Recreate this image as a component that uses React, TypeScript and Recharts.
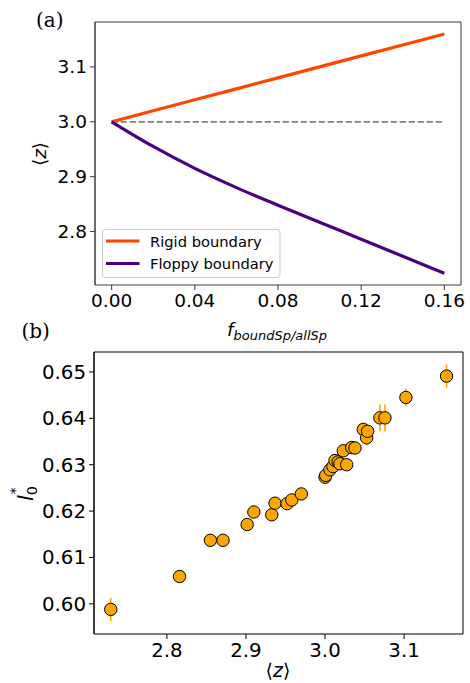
import React from "react";
import { ComposedChart, Line, Scatter, XAxis, YAxis, ErrorBar } from "recharts";

// Panel (a) data
const F_VALUES = [0, 0.02, 0.04, 0.06, 0.08, 0.1, 0.12, 0.14, 0.16];
const RIGID = [3.0, 3.02, 3.04, 3.06, 3.08, 3.1, 3.12, 3.14, 3.16];
const FLOPPY = [3.0, 2.955, 2.915, 2.88, 2.848, 2.817, 2.786, 2.755, 2.724];
const BASELINE = [3.0, 3.0, 3.0, 3.0, 3.0, 3.0, 3.0, 3.0, 3.0];
const A_X_TICKS = [0, 0.04, 0.08, 0.12, 0.16];
const A_Y_TICKS = [2.8, 2.9, 3.0, 3.1];
const A_X_DOMAIN = [-0.008, 0.168];
const A_Y_DOMAIN = [2.7026, 3.1818];

// Panel (b) data
const Z_VALUES = [
  2.729, 2.816, 2.855, 2.871, 2.9015, 2.91, 2.9326, 2.9368, 2.952, 2.958, 2.97,
  3.0, 3.0009, 3.0063, 3.01, 3.0126, 3.0165, 3.0189, 3.0231, 3.0274, 3.0337,
  3.0379, 3.0484, 3.0527, 3.0539, 3.0694, 3.0758, 3.1023, 3.1537,
];
const L_VALUES = [
  0.5988, 0.6059, 0.6137, 0.6137, 0.6171, 0.6198, 0.6192, 0.6217, 0.6216, 0.6224,
  0.6237, 0.6273, 0.6277, 0.6289, 0.6296, 0.6309, 0.6306, 0.6302, 0.633, 0.63,
  0.6337, 0.6336, 0.6376, 0.6358, 0.6372, 0.6401, 0.6401, 0.6445, 0.6491,
];
const L_ERRORS = [
  0.0025, 0.0008, 0.0008, 0.0008, 0.0008, 0.0008, 0.0008, 0.0008, 0.0008, 0.0008,
  0.0008, 0.0008, 0.0008, 0.0008, 0.0008, 0.0008, 0.0008, 0.0008, 0.0008, 0.0008,
  0.0008, 0.0008, 0.0008, 0.0017, 0.0008, 0.0029, 0.0029, 0.0019, 0.0025,
];
const B_X_TICKS = [2.8, 2.9, 3.0, 3.1];
const B_Y_TICKS = [0.6, 0.61, 0.62, 0.63, 0.64, 0.65];
const B_X_DOMAIN = [2.7078, 3.1745];
const B_Y_DOMAIN = [0.5935, 0.6543];

const lineData = F_VALUES.map((f, i) => ({
  f,
  rigid: RIGID[i],
  floppy: FLOPPY[i],
  base: BASELINE[i],
}));
const scatterData = Z_VALUES.map((z, i) => ({ z, l: L_VALUES[i], err: L_ERRORS[i] }));

const RIGID_COLOR = "#FF4500";
const FLOPPY_COLOR = "#4B0082";
const DOT_COLOR = "#FFA500";
const FONT = "DejaVu Sans";
const tickStyleA = { fill: "#000", fontSize: 18.5, fontFamily: FONT };
const tickStyleB = { fill: "#000", fontSize: 19.8, fontFamily: FONT };

const Dot = (props: any) => {
  const { cx, cy } = props;
  if (cx == null || cy == null) return null;
  return <circle cx={cx} cy={cy} r={6.2} fill={DOT_COLOR} stroke="#000" strokeWidth={1} />;
};

export default function App() {
  const aFrame = "#3a3a3a";
  return (
    <div style={{ position: "absolute", left: 0, top: 0, width: 470, height: 683, background: "#fff" }}>
      <div style={{ position: "absolute", left: 0, top: 0 }}>
        <ComposedChart width={470} height={320} data={lineData} margin={{ top: 22, right: 9, left: 0, bottom: 0 }}>
          <XAxis
            dataKey="f"
            type="number"
            domain={A_X_DOMAIN}
            allowDataOverflow
            ticks={A_X_TICKS}
            tickFormatter={(v: number) => v.toFixed(2)}
            height={35}
            tickSize={5}
            tickMargin={4}
            tick={tickStyleA}
            stroke={aFrame}
          />
          <YAxis
            type="number"
            domain={A_Y_DOMAIN}
            allowDataOverflow
            ticks={A_Y_TICKS}
            tickFormatter={(v: number) => v.toFixed(1)}
            width={95}
            tickSize={5}
            tickMargin={3}
            tick={tickStyleA}
            stroke={aFrame}
          />
          <Line dataKey="base" stroke="#808080" strokeWidth={1.7} strokeDasharray="6.3 2.7" dot={false} isAnimationActive={false} />
          <Line dataKey="rigid" stroke={RIGID_COLOR} strokeWidth={3.2} dot={false} isAnimationActive={false} />
          <Line type="monotone" dataKey="floppy" stroke={FLOPPY_COLOR} strokeWidth={3.2} dot={false} isAnimationActive={false} />
        </ComposedChart>
      </div>
      <div style={{ position: "absolute", left: 0, top: 320 }}>
        <ComposedChart width={470} height={363} data={scatterData} margin={{ top: 32, right: 7, left: 0, bottom: 0 }}>
          <XAxis
            dataKey="z"
            type="number"
            domain={B_X_DOMAIN}
            allowDataOverflow
            ticks={B_X_TICKS}
            tickFormatter={(v: number) => v.toFixed(1)}
            height={49}
            tickSize={5}
            tickMargin={4}
            tick={tickStyleB}
            stroke="#000"
          />
          <YAxis
            dataKey="l"
            type="number"
            domain={B_Y_DOMAIN}
            allowDataOverflow
            ticks={B_Y_TICKS}
            tickFormatter={(v: number) => v.toFixed(2)}
            width={94}
            tickSize={5}
            tickMargin={3}
            tick={tickStyleB}
            stroke="#000"
          />
          <Scatter data={scatterData} dataKey="l" shape={Dot} isAnimationActive={false}>
            <ErrorBar dataKey="err" direction="y" width={0} stroke={DOT_COLOR} strokeWidth={1.6} />
          </Scatter>
        </ComposedChart>
      </div>
      <svg width={470} height={683} style={{ position: "absolute", left: 0, top: 0, pointerEvents: "none" }}>
        {/* plot frames (top and right spines) */}
        <polyline points="95,285 95,22 461,22 461,285" fill="none" stroke={aFrame} strokeWidth={1} />
        <polyline points="94,634 94,352 463,352 463,634" fill="none" stroke="#000" strokeWidth={1} />
        {/* panel labels */}
        <text x={36} y={26.5} fontFamily="DejaVu Serif" fontSize={20} fill="#000">(a)</text>
        <text x={21.5} y={338} fontFamily="DejaVu Serif" fontSize={20} fill="#000">(b)</text>
        {/* legend (a) */}
        <rect x={102.5} y={229.5} width={177.5} height={48} rx={3} fill="#fff" fillOpacity={0.8} stroke="#cccccc" strokeWidth={1} />
        <line x1={106} x2={139.5} y1={241} y2={241} stroke={RIGID_COLOR} strokeWidth={3.2} />
        <line x1={106} x2={139.5} y1={263.5} y2={263.5} stroke={FLOPPY_COLOR} strokeWidth={3.2} />
        <text x={150} y={246.5} fontFamily={FONT} fontSize={14.7} fill="#000">Rigid boundary</text>
        <text x={150} y={269} fontFamily={FONT} fontSize={14.7} fill="#000">Floppy boundary</text>
        {/* axis labels (a) */}
        <text transform="translate(46,154) rotate(-90)" textAnchor="middle" fontFamily={FONT} fontSize={18.5} fill="#000">
          ⟨<tspan fontStyle="italic">z</tspan>⟩
        </text>
        <text x={277} y={336} textAnchor="middle" fontFamily={FONT} fill="#000">
          <tspan fontSize={18.5} fontStyle="italic">f</tspan>
          <tspan fontSize={13} fontStyle="italic" dy={3.5}>boundSp/allSp</tspan>
        </text>
        {/* axis labels (b) */}
        <text x={278} y={677} textAnchor="middle" fontFamily={FONT} fontSize={19} fill="#000">
          ⟨<tspan fontStyle="italic">z</tspan>⟩
        </text>
        <text transform="translate(33,501) rotate(-90)" fontFamily={FONT} fill="#000">
          <tspan fontSize={21} fontStyle="italic">l</tspan>
          <tspan fontSize={14.5} dy={4}>0</tspan>
          <tspan fontSize={14.5} dx={-8.5} dy={-17}>*</tspan>
        </text>
      </svg>
    </div>
  );
}
